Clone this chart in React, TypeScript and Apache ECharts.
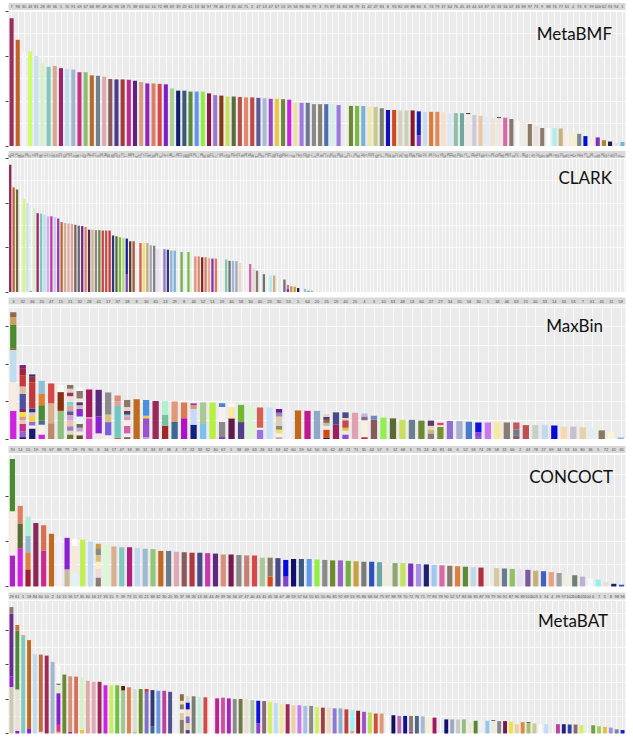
import React, { useEffect, useRef } from "react";
import * as echarts from "echarts";

// ---------------- MetaBMF ----------------
const metabmfLabels = "7 98 30 43 81 28 39 36 5 70 91 69 67 68 89 48 30 98 18 71 38 63 60 14 72 88 69 39 23 61 13 34 97 78 46 17 65 60 71 2 47 13 47 67 13 19 34 96 80 79 3 75 87 31 84 96 79 11 42 47 83 8 93 82 69 88 80 6 74 79 37 64 76 45 49 44 63 87 15 33 16 67 33 89 97 73 9 88 76 77 61 4 73 8 99 100 62 93 94 1".split(" ");
const metabmfValues: number[][] = [
  [284],[236],[210],[210],[200],[184],[176],[178],[173],[171],
  [170],[164],[164],[157],[156],[154],[149],[148],[148],[147],
  [145],[142],[139],[139],[138],[137],[128],[123],[123],[121],
  [121],[121],[117],[113],[112],[110],[110],[109],[108],[108],
  [107],[106],[105],[105],[104],[103],[97],[96],[96],[93],
  [93],[93],[93],[91],[],[89],[89],[89],[87],[87],
  [84],[80],[80],[79],[79],[79],[24,53],[76],[76],[76],
  [75],[73],[73],[73],[71,2],[69],[67],[64],[61],[62,2],
  [63],[60],[56],[52],[49],[44],[40],[40],[40],[39],
  [33],[30],[27],[22],[19],[19],[13],[10],[7],[9],
];
const metabmfColors: string[][] = [
  ["#9b2d5c"],["#c0632a"],["#f4f4fc"],["#ccff66"],["#c6e2f0"],["#d8f0c8"],["#7fc8c0"],["#d8a888"],["#a02070"],["#c0dcf0"],
  ["#9fb8d0"],["#c83088"],["#88c070"],["#b86828"],["#708090"],["#e0a8b0"],["#8a5a5a"],["#483d8b"],["#a83838"],["#c02890"],
  ["#602080"],["#d8a080"],["#8a28c0"],["#d88060"],["#d84848"],["#7a20c8"],["#a8d098"],["#102070"],["#3a5a78"],["#5a8a3a"],
  ["#6495ed"],["#90ee40"],["#8a1848"],["#9a78d0"],["#8a3818"],["#c8e060"],["#5a6a3a"],["#b85050"],["#e08868"],["#c04848"],
  ["#5a5a98"],["#a8b8d8"],["#9a48c0"],["#e8c840"],["#6a8a3a"],["#d020e0"],["#f0e0a0"],["#a078e0"],["#6a7898"],["#8a8a8a"],
  ["#8a8270"],["#4a70b0"],["#d0f0e8"],["#9a78e0"],[],["#6a8a30"],["#7ab840"],["#7ab0e0"],["#f0e8a8"],["#c8c890"],
  ["#7a8070"],["#1010c0"],["#d04a20"],["#d8d0b8"],["#c8d0b8"],["#8a1828"],["#8040c8","#1020b0"],["#c8dcf0"],["#e07838"],["#e08858"],
  ["#f8e0c8"],["#d8e8f8"],["#90c0a8"],["#70a8a0"],["#f0ebe6","#222222"],["#d0c8d8"],["#e8c8a8"],["#e0ecf4"],["#f0e4d0"],["#f0e8e0","#333333"],
  ["#d868a8"],["#8a7870"],["#fafafa"],["#f0ece4"],["#8a7a6a"],["#ece4dc"],["#8a7a70"],["#fcfcfc"],["#a8f0f0"],["#c8b078"],
  ["#f8f0e8"],["#f8f0c8"],["#808888"],["#0010d0"],["#f8f0e8"],["#8030c0"],["#a88828"],["#202050"],["#f0e0e0"],["#7ab0e0"],
];

// ---------------- CLARK ----------------
const clarkLabels = ("35 162 118 86 92 130 47 101 153 66 12 144 171 58 29 137 83 110 175 24 96 141 63 156 18 127 74 105 168 39 " +
  "88 149 52 119 7 160 133 81 43 112 177 26 95 138 61 124 15 166 71 108 147 33 89 155 120 4 136 67 99 172 " +
  "21 114 158 45 82 129 10 143 76 103 165 38 91 150 57 116 179 30 125 69 102 161 14 87 134 49 173 60 121 3 " +
  "146 78 113 22 170 54 139 93 8 157 41 126 84 164 19 107 148 65 131 2 176 50 97 142 28 117 80 159 36 123 " +
  "70 152 11 100 174 44 135 62 109 167 25 140 79 115 5 163 48 132 90 151 17 128 73 178 56 106 145 34 122 1 " +
  "169 85 111 40 154 64 27 98 180 13 59 137 94 23 161 72 104 46 119 6 150 31 88 126 53 171 20 142 77 9").split(" ");
const clarkValues: number[][] = [
  [286],[235],[230],[],[209],[200],[2],[189],[177],[176],
  [174],[170],[170],[168],[165],[157],[155],[154],[153],[151],
  [149],[148],[146],[140],[140],[139],[139],[138],[138],[138],
  [127],[125],[123],[121],[40,80],[114],[114],[],[110],[110],
  [110],[105],[104],[97],[],[96],[95],[93],[93],[],
  [90],[],[90],[],[80],[80],[78],[78],[76],[75],
  [75],[],[],[73],[70],[70],[69],[65],[],[],
  [63],[54],[48],[],[40],[],[37],[37],[],[],
  [28],[8,8],[13],[12],[9],[],[7],[3],[3],
];
const clarkColors: string[][] = [
  ["#8b2252"],["#c0632a"],["#6b6b3a"],[],["#ccff66"],["#c6e2f0"],["#8a8a8a"],["#d8f0c8"],["#a02070"],["#7fc8c0"],
  ["#c0dcf0"],["#c8b0e8"],["#c830b0"],["#c0d0e8"],["#a030c0"],["#b86828"],["#d0b090"],["#e0a8b0"],["#d8a898"],["#8a5a5a"],
  ["#606878"],["#6a2880"],["#e08060"],["#503050"],["#d8b088"],["#8a8a8a"],["#6a8a3a"],["#c84040"],["#d04848"],["#c03838"],
  ["#283878"],["#5a6a3a"],["#7ab840"],["#a8e078"],["#8040c8","#1818a0"],["#5a3a28"],["#a05838"],[],["#d86048"],["#f0e070"],
  ["#c8a878"],["#a0a8c0"],["#808080"],["#e8e0f0"],[],["#9a70d0"],["#303878"],["#90b0d8"],["#7ab0e0"],[],
  ["#70b050"],[],["#70c040"],[],["#d89878"],["#e08868"],["#8a2020"],["#d88060"],["#e8b090"],["#8030c0"],
  ["#e07858"],[],[],["#80c8b0"],["#707070"],["#a0b8d8"],["#9aa8c0"],["#f0d8c0"],[],[],
  ["#d868a8"],["#e8d8d8"],["#8a7a6a"],[],["#707070"],[],["#a8f0f0"],["#c8b078"],[],[],
  ["#707070"],["#8030c0","#d070b0"],["#d89040"],["#c8a030"],["#202050"],[],["#90c0e0"],["#909090"],["#b0b0b0"],
];

// ---------------- MaxBin ----------------
const maxbinLabels = "3 32 36 20 47 15 21 32 28 41 17 37 18 8 30 65 13 29 8 44 52 51 19 40 58 30 40 23 30 53 5 64 20 25 19 40 25 4 3 10 63 48 13 60 27 27 34 55 56 30 1 34 46 63 21 40 33 14 34 53 7 61 45 11 59".split(" ");
const maxbinValues: number[][] = [
  [75,76,86,5,62,21,13],[5,15,20,10,10,12,8,40,20,30,17,10],[28,8,10,15,10,10,70,15,6],[12,26,12,40,30,35],[42,53,53],
  [75,50,19],[12,10,12,15,15,10,15,10,15,10,10,10],[10,10,10,10,20,20,10,8,10,20,10],[55,3,74],[15,45,71],
  [10,35,20,59],[3,85,12,16],[5,10,20,15,10,5,10,10,19],[106],[5,50,7,42],
  [101],[35,30,36],[45,55],[55,42],[38,42,10,5],
  [40,57],[97],[5,40,40,10],[55,30,10],[45,46],
  [89],[25,5,54],[84],[5,10,10,10,25,10,10],[77],
  [76],[75],[75],[3,22,10,8,8,8,7],[38,33],
  [12,10,8,20,6,15],[70],[5,45,10,8],[52,10],[57],
  [55],[51],[51],[49],[15,10,10,14],
  [32,5,7,5],[48],[48],[46],[8,10,26],
  [44],[44],[44],[10,15,19],[37],
  [37],[37],[36],[33],[33],
  [31],[28],[23],[18],[4],
];
const maxbinColors: string[][] = [
  ["#d020e0","#f8ece0","#c0dcf0","#a06030","#4a8a30","#c8a060","#8a6a50"],
  ["#1a1a6a","#9a60d0","#c83090","#e8c8b8","#d8a080","#f0e040","#8a2060","#5050a0","#d8c0a0","#c83838","#a02040","#7a2080"],
  ["#1a1a70","#f8f0f0","#9a6ad0","#f0d040","#e8c8b0","#2a3a80","#c03838","#a03030","#303070"],
  ["#d020e0","#f8f0e0","#4a6a90","#4a8a30","#e08030","#90c0d8"],
  ["#c08868","#d8b090","#d84848"],
  ["#90c080","#8a3010","#f8f8f8"],
  ["#6a7a30","#e8d8c0","#9a80c0","#f0c0a0","#c8a8d8","#5a5a90","#e0a0a0","#70d8d0","#f8e0d0","#a03060","#e8d0c0","#8a7060"],
  ["#6a4a20","#f0ece8","#c0a8d8","#7a6a50","#e0f8f8","#8a2ad0","#c8c0b0","#5a3070","#f0e8e0","#8a7a6a","#f8f8f8"],
  ["#d040c0","#f0a0c0","#a01a60"],
  ["#f0e8e0","#8a20d0","#5a2a80"],
  ["#f0f0f0","#7a60d8","#d8c080","#8a8a8a"],
  ["#d06020","#70c8c0","#e0a0a0","#d89070"],
  ["#8a5a5a","#f0f0f0","#d860a8","#f8f0e8","#e098b8","#70d8d0","#5a3a60","#f0d0c0","#8a7a6a"],
  ["#c06a20"],
  ["#c0a0e0","#9a50d0","#f0d040","#4a90e0"],
  ["#9a2858"],
  ["#a02828","#78c0a0","#b0f0d0"],
  ["#3a6a90","#e09878"],
  ["#b010c8","#e07850"],
  ["#102080","#c8d8f8","#e09860","#8040c0"],
  ["#80c0f0","#a8c898"],
  ["#b8f040"],
  ["#8040c0","#8a8a8a","#f8f0f0","#4a80c8"],
  ["#601a50","#f8e8a0","#f8f8f8"],
  ["#50408a","#70b830"],
  ["#d8f8d0"],
  ["#a070e0","#f8f8f8","#d86050"],
  ["#c8e0f8"],
  ["#b8b0a0","#f8f0e8","#f0e060","#8a8a7a","#d8d0b0","#9a8aa8","#6a1a9a"],
  ["#f0f0f8"],
  ["#c06a20"],["#c01890"],["#90a8c8"],
  ["#202020","#d04818","#f0e8e0","#c8b8a0","#8a6a40","#5a3a70","#e8d0c0"],
  ["#9a2060","#4a4a8a"],
  ["#8a50d0","#f0e8e0","#e0c040","#c84848","#e8d0c0","#4a4a8a"],
  ["#e0a0b0"],
  ["#c83030","#f8f0e0","#8a6a8a","#c8b8d8"],
  ["#8a5a5a","#6a8ac8"],
  ["#90f050"],["#5a6a30"],["#c8e060"],["#6a8090"],["#6a8a30"],
  ["#8a7a7a","#c8b890","#e8d8a0","#5a3a70"],
  ["#7a9030","#f0e0e0","#d84860","#f8f0f0"],
  ["#9070d0"],["#a8b0d0"],["#4a7ad0"],
  ["#8060d0","#9040e0","#1010e0"],
  ["#c878f0"],["#f8e8a0"],["#8a7a70"],
  ["#8a5a6a","#6a7a8a","#c05858"],
  ["#c05050"],["#c8d0c8"],["#c0d8f0"],["#0808d8"],["#f8d8b0"],
  ["#c8c0d0"],["#e8d0a8"],["#e0f0f0"],["#8a7a58"],["#f8f8d8"],["#90b8e0"],
];

// ---------------- CONCOCT ----------------
const concoctLabels = "70 14 15 19 73 67 88 79 29 76 90 8 16 17 47 33 39 11 33 37 38 4 77 22 33 32 30 67 1 38 49 63 26 61 63 42 60 59 64 50 55 62 48 21 71 35 44 57 9 12 68 3 75 24 40 81 46 6 52 18 74 28 58 31 66 2 43 78 27 69 34 53 10 80 36 5 72 41 65".split(" ");
const concoctValues: number[][] = [
  [69,98,116],[85,55,39],[38,38,36,43],[141],[80,56],
  [117],[112],[38,70],[30,60,15],[104],
  [100],[20,20,15,15,15,10],[93],[89],[87],
  [87],[86],[84],[83],[79],
  [79],[77],[76],[75],[75],
  [74],[73],[71],[71],[70],
  [69],[69],[64],[22,42],[63],
  [22,37],[61],[61],[61],[60],
  [59],[58],[58],[57],[56],
  [55],[55],[54],[53],[52],
  [52],[51],[50],[49],[48],
  [47],[46],[45],[44],[43],
  [42],[],[41],[40],[39],
  [38],[37],[35],[34],[32],
  [30],[28],[25],[22],[18],
  [15],[10],[6],[4],
];
const concoctColors: string[][] = [
  ["#b020c8","#f8ece4","#4a8a30"],["#d020e0","#5a6a30","#e08060"],["#a02030","#e08040","#90b8d0","#b0f0d0"],["#8a2858"],["#d02890","#d87050"],
  ["#c06a20"],["#f4f0fc"],["#c8b898","#8a20d0"],["#e0f4f8","#f8e8d8","#ffffff"],["#c0f050"],
  ["#c0dcf0"],["#8a7a70","#f0d8d8","#f8f0c0","#d8c080","#8a8a7a","#c8a040"],["#d8f8d0"],["#d8b090"],["#80c8c0"],
  ["#b02080"],["#c0d8f0"],["#a0b8d0"],["#90c878"],["#c06a20"],
  ["#6a7a88"],["#e0a8b0"],["#8a5a5a"],["#b03840"],["#4a4a8a"],
  ["#c838a8"],["#602880"],["#d89078"],["#7a1850"],["#8a8a8a"],
  ["#c88070"],["#d84848"],["#a8c898"],["#d84818","#8a7a6a"],["#4a4a8a"],
  ["#8040d0","#0808e0"],["#101070"],["#3a5a80"],["#6495ed"],["#90f040"],
  ["#8a8a8a"],["#6a8a30"],["#9a60d0"],["#70b040"],["#c8a040"],
  ["#7a7a7a"],["#3050c0"],["#70a8a0"],["#f0ece0"],["#90a870"],
  ["#c8e060"],["#8030c0"],["#a890e0"],["#202070"],["#a0c8f0"],
  ["#d868a8"],["#8a7a6a"],["#e08040"],["#5a8a3a"],["#c0d8e8"],
  ["#b03040"],[],["#d8c8a0"],["#6a7a90"],["#90c060"],
  ["#e8e0f0"],["#7a5a9a"],["#c8b078"],["#4060c0"],["#e8a080"],
  ["#a0a0a0"],["#f0f0e0"],["#708070"],["#c0b0d0"],["#f8f8f8"],
  ["#90f0f0"],["#e8e0d0"],["#202060"],["#3050d0"],
];

// ---------------- MetaBAT ----------------
const metabatLabels = "29 61 1 18 84 60 10 2 14 13 16 17 35 30 16 27 33 15 9 39 73 11 31 21 38 32 30 20 35 37 38 26 13 34 44 49 39 56 34 47 47 40 43 41 45 56 67 48 59 57 64 55 65 50 80 81 92 69 53 95 86 68 64 75 87 88 78 70 72 76 71 77 83 78 90 52 57 83 66 85 87 93 79 90 91 87 96 89 101 103 3 94 4 99 97 102 104 105 100 6 7 5 8 98 96".split(" ");
const metabatValues: number[][] = [
  [135,31,182,19],[8,120,170,17],[280,6],[15,256],[230],
  [5,224],[226],[208],[5,20,92,25,3,58],[171],
  [5,161],[165],[10,153],[153],[150],
  [150],[140],[140],[140],[125,13],
  [134],[5,124],[129],[121,8],[20,106],
  [124],[124],[121],[119],[40,20,10,15,10,19],
  [10,20,20,20,20,18],[108],[106],[105],[102],
  [102],[104],[102],[100],[100],
  [101],[97],[30,65],[94],[92],
  [89],[85],[85],[82],[82],
  [80],[80],[77],[75],[75],
  [73],[73],[70],[8,60],[66],
  [63],[61],[58],[58],[53],
  [53],[51],[51],[6,45],[51],
  [50],[48],[46],[],[41],
  [41],[41],[41],[31],[37],
  [37],[37],[37,2],[36],[36],
  [34],[27],[33],[31,2],[29],
  [27],[27],[],[27],[27],
  [26],[26],[24],[],[24],
  [21],[19],[17],[12],[10],
];
const metabatColors: string[][] = [
  ["#d0c8b0","#8a20d0","#6a2a90","#8a7a70"],["#8a20d0","#e8e0d0","#4a8a30","#c07838"],["#80c8c0","#d8b090"],["#8a20d0","#c06a20"],["#c0dcf0"],
  ["#e8e0d0","#c06a40"],["#a02858"],["#a0b8d0"],["#d8b090","#e03080","#8a20d0","#d8f0c8","#302020","#f8f8f8"],["#6a8a30"],
  ["#8a20d0","#d89078"],["#d87058"],["#f0c040","#d8f0c8"],["#e0a8a0"],["#e0a8b8"],
  ["#a02858"],["#d020e0"],["#c8f060"],["#70c040"],["#a0c890","#5a2010"],
  ["#e08058"],["#c8c060","#d8e0d0"],["#6a8a30"],["#8070c8","#c83838"],["#3a6a90","#303878"],
  ["#6a98e0"],["#c040a0"],["#505090"],["#f0f0f0"],["#8a7a6a","#d8c8a8","#f8f0e0","#8a7a6a","#f0d8a0","#8a6a40"],
  ["#5a3a80","#e0d0b0","#8a60c0","#f0e0c0","#1010c0","#e0d8d0"],["#7a8070"],["#c0f0e0"],["#d84848"],["#f8f8f8"],
  ["#c02090"],["#d050a0"],["#b020c0"],["#8a8a8a"],["#6a7a40"],
  ["#e8e0d0"],["#a8c8a0"],["#8a40d0","#1010e0"],["#8a6a70"],["#d0f060"],
  ["#c0dcf0"],["#f0e8a0"],["#a02858"],["#e8d0a8"],["#c878f0"],
  ["#a8c0e0"],["#8a8a8a"],["#d0f060"],["#a04040"],["#f0d8b8"],
  ["#8878d8"],["#90b0d0"],["#c04040"],["#d8b080","#a0f0f8"],["#8a1828"],
  ["#a050c8"],["#b8e050"],["#d05030"],["#e09878"],["#fafafa"],
  ["#101060"],["#c070b0"],["#1010a0"],["#c02090","#8a7a70"],["#4a6a80"],
  ["#a8b8d8"],["#f8f0d0"],["#a01860"],[],["#101070"],
  ["#a0a8c0"],["#c8c8c8"],["#90c080"],["#f0e8d0"],["#5a8a30"],
  ["#f0f0f0"],["#90c8f0"],["#f0e8d8","#333333"],["#8a8a8a"],["#7a1850"],
  ["#f0e040"],["#e8d0a0"],["#e08840"],["#a0c070","#3a3a2a"],["#d0c890"],
  ["#fafafa"],["#c0dcf8"],[],["#c040a0"],["#202080"],
  ["#3040a0"],["#8a6a70"],["#d0f060"],[],["#70a040"],
  ["#a0d060"],["#e8c040"],["#a890e0"],["#6a8aa0"],["#1020c8"],
];

const tickValues = [0, 100, 200, 300];

const panels = [
  { title: "MetaBMF", labels: metabmfLabels, vals: metabmfValues, cols: metabmfColors, stripY: 3, top: 11, height: 135, max: 300, titleX: 612, titleY: 33, fs: 4, rot: 0 },
  { title: "CLARK", labels: clarkLabels, vals: clarkValues, cols: clarkColors, stripY: 151, top: 158, height: 134, max: 301, titleX: 612, titleY: 177, fs: 2.6, rot: 90 },
  { title: "MaxBin", labels: maxbinLabels, vals: maxbinValues, cols: maxbinColors, stripY: 297.5, top: 305, height: 134, max: 357, titleX: 603, titleY: 325, fs: 4, rot: 0 },
  { title: "CONCOCT", labels: concoctLabels, vals: concoctValues, cols: concoctColors, stripY: 446, top: 454.5, height: 132, max: 293, titleX: 613, titleY: 476, fs: 4, rot: 0 },
  { title: "MetaBAT", labels: metabatLabels, vals: metabatValues, cols: metabatColors, stripY: 592.5, top: 600.5, height: 133, max: 386, titleX: 608, titleY: 620, fs: 4, rot: 0 },
];

const LEFT = 8.5;
const WIDTH = 617;

export default function App() {
  const ref = useRef<HTMLDivElement>(null);
  useEffect(() => {
    if (!ref.current) return;
    const chart = echarts.init(ref.current, null, { renderer: "svg", width: 633, height: 746 });
    const grid: any[] = [];
    const xAxis: any[] = [];
    const yAxis: any[] = [];
    const series: any[] = [];
    const graphic: any[] = [];
    panels.forEach((p, pi) => {
      grid.push({ left: LEFT, width: WIDTH, top: p.top, height: p.height, show: true, backgroundColor: "#ebebeb", borderWidth: 0 });
      const margin = p.rot ? p.top - p.stripY - 6.5 : p.top - p.stripY - 3.5 - p.fs * 0.55;
      xAxis.push({
        type: "category", gridIndex: pi, position: "top",
        data: p.labels.map((_, i) => String(i)),
        axisLine: { show: false }, axisTick: { show: false },
        axisLabel: {
          show: true, interval: 0, hideOverlap: false, fontSize: p.fs, color: "#4d4d4d", rotate: p.rot,
          fontFamily: "Liberation Sans, sans-serif",
          margin,
          formatter: (_v: string, idx: number) => p.labels[idx],
        },
        splitLine: { show: true, interval: 0, alignWithLabel: true, lineStyle: { color: "#ffffff", width: 0.7 } },
      });
      yAxis.push({
        type: "value", gridIndex: pi, position: "left", min: 0, max: p.max, interval: 50,
        axisLine: { show: false }, axisTick: { show: false }, axisLabel: { show: false },
        splitLine: { show: true, lineStyle: { color: "#ffffff", width: 0.8 } },
      });
      yAxis.push({
        type: "value", gridIndex: pi, position: "left", min: 0, max: p.max, interval: 100,
        axisLine: { show: false },
        axisTick: { show: true, length: 3, customValues: tickValues, lineStyle: { color: "#444444", width: 1 } },
        axisLabel: { show: false }, splitLine: { show: false },
      });
      const depth = Math.max(...p.vals.map((v) => v.length));
      for (let k = 0; k < depth; k++) {
        series.push({
          type: "bar", xAxisIndex: pi, yAxisIndex: pi * 2, stack: "s" + pi, barWidth: "66%",
          silent: true,
          data: p.labels.map((_, i) => {
            const v = p.vals[i];
            return v && v[k] !== undefined ? { value: v[k], itemStyle: { color: p.cols[i][k] } } : "-";
          }),
        });
      }
      graphic.push({ type: "rect", z: -1, shape: { x: LEFT, y: p.stripY, width: WIDTH, height: 7 }, style: { fill: "#d9d9d9" } });
      graphic.push({
        type: "text", z: 100, x: p.titleX, y: p.titleY,
        style: { text: p.title, font: '17px Lato, "Open Sans", sans-serif', fill: "#111111", align: "right", verticalAlign: "middle" },
      });
    });
    chart.setOption({ animation: false, grid, xAxis, yAxis, series, graphic });
    return () => chart.dispose();
  }, []);
  return <div ref={ref} style={{ position: "absolute", left: 0, top: 0, width: 633, height: 746, background: "#ffffff" }} />;
}
